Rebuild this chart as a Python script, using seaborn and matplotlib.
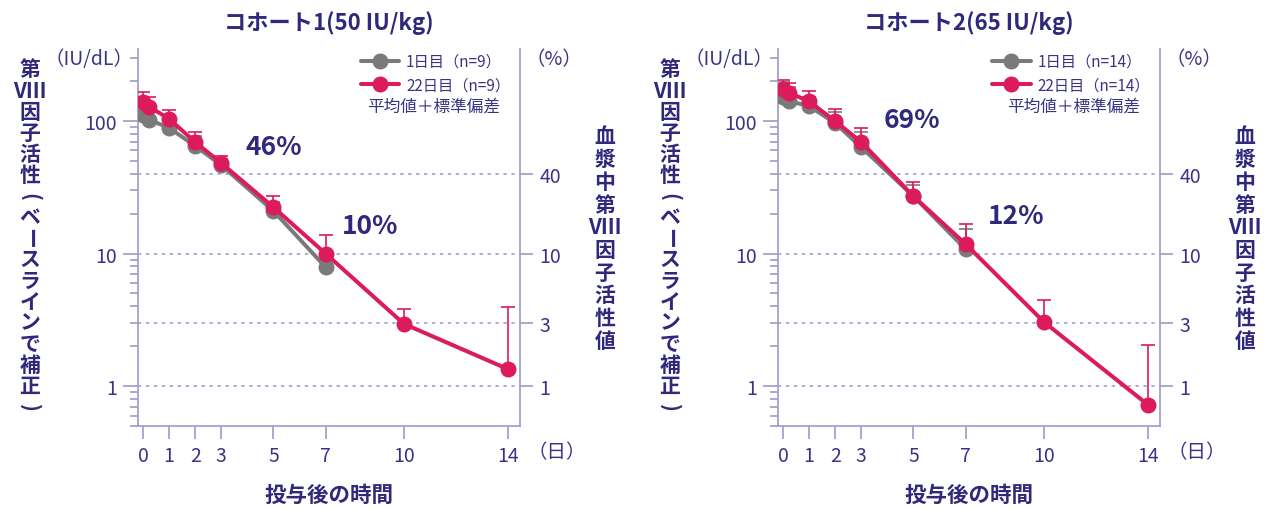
import numpy as np
import pandas as pd
import matplotlib
matplotlib.use("Agg")
import matplotlib.pyplot as plt
from matplotlib.lines import Line2D
from matplotlib.ticker import FixedLocator, NullFormatter, LogLocator, NullLocator
import seaborn as sns

sns.set_theme(style="white")
plt.rcParams["font.family"] = ["Noto Sans CJK JP", "DejaVu Sans"]

# ---- data -------------------------------------------------------------
days_day1 = [0, 0.25, 1, 2, 3, 5, 7]
days_day22 = [0, 0.25, 1, 2, 3, 5, 7, 10, 14]

c1_day1_mean = [112, 102, 89, 65, 46.5, 21, 7.9]
c1_day1_upper = [140, 128, 108, 77, 52, 24.5, 9.0]
c1_day22_mean = [139, 128, 104, 69.5, 48.2, 22.4, 10.0, 2.95, 1.34]
c1_day22_upper = [166, 151, 121, 82.6, 54.5, 27.1, 13.8, 3.8, 3.95]

c2_day1_mean = [152, 141, 130, 96.5, 63.6, 27.1, 10.8]
c2_day1_upper = [196, 180, 152, 118, 82.6, 33.0, 15.3]
c2_day22_mean = [174, 163, 141, 100, 69.5, 27.1, 11.8, 3.05, 0.72]
c2_day22_upper = [204, 195, 168, 123, 88.5, 34.7, 16.7, 4.5, 2.05]

titles = ["コホート1(50 IU/kg)", "コホート2(65 IU/kg)"]
legend_day1 = ["1日目（n=9）", "1日目（n=14）"]
legend_day22 = ["22日目（n=9）", "22日目（n=14）"]
pct_labels = [["46%", "10%"], ["69%", "12%"]]
pct_pos = [[(5.0, 64.7), (8.7, 16.2)], [(4.95, 103), (8.95, 19.3)]]

x_ticks = [0, 1, 2, 3, 5, 7, 10, 14]
left_ticks = [1, 10, 100]
right_ticks = [1, 3, 10, 40]
grid_levels = [1, 3, 10, 40]

cohorts = [
    (c1_day1_mean, c1_day1_upper, c1_day22_mean, c1_day22_upper),
    (c2_day1_mean, c2_day1_upper, c2_day22_mean, c2_day22_upper),
]

# ---- style ------------------------------------------------------------
GREY = "#7a7a7a"
RED = "#db1b5b"
TXT = "#30287a"
TICKTXT = "#3a3486"
AXC = "#a6a0cd"
GRIDC = "#9d97c6"

W, H = 1274, 510
fig = plt.figure(figsize=(W / 100, H / 100), dpi=100)


def fx(x):
    return x / W


def fy(y):
    return 1 - y / H


# vertical captions: (glyph, rotated?) — brackets and the long-vowel bar are
# turned a quarter so they read correctly in a top-to-bottom column
left_label = [("第", False), ("VIII", False), ("因", False), ("子", False),
              ("活", False), ("性", False), ("(", True), ("ベ", False),
              ("ー", True), ("ス", False), ("ラ", False), ("イ", False),
              ("ン", False), ("で", False), ("補", False), ("正", False),
              (")", True)]
right_label = [("血", False), ("漿", False), ("中", False), ("第", False),
               ("VIII", False), ("因", False), ("子", False), ("活", False),
               ("性", False), ("値", False)]


def column_text(items, x, y0, pitch):
    for k, (ch, rot) in enumerate(items):
        fig.text(fx(x), fy(y0 + k * pitch), ch, ha="center", va="center",
                 fontsize=15, fontweight="bold", color=TXT,
                 rotation=-90 if rot else 0, rotation_mode="default")


axes_left_px = [138, 778]
axes_w_px = 382
top_px, bot_px = 50, 427

for i, (d1m, d1u, d22m, d22u) in enumerate(cohorts):
    lx = axes_left_px[i]
    ax = fig.add_axes([fx(lx), fy(bot_px), axes_w_px / W, (bot_px - top_px) / H])
    ax.set_yscale("log")
    ax.set_xlim(-0.19, 14.45)
    ax.set_ylim(0.5, 350)

    # dotted reference lines
    for g in grid_levels:
        ax.axhline(g, color=GRIDC, lw=1.1, ls=(0, (2.2, 3)), zorder=1)

    df1 = pd.DataFrame({"day": days_day1, "value": d1m})
    df22 = pd.DataFrame({"day": days_day22, "value": d22m})

    # day 1 series (grey) with upper SD bars
    ax.errorbar(days_day1, d1m,
                yerr=[np.zeros(len(d1m)), np.array(d1u) - np.array(d1m)],
                fmt="none", ecolor=GREY, elinewidth=1.2, capsize=4.7,
                capthick=1.2, zorder=2)
    sns.lineplot(data=df1, x="day", y="value", ax=ax, color=GREY,
                 marker="o", markersize=11.5, markeredgewidth=0,
                 linewidth=2.9, legend=False, zorder=3, errorbar=None)

    # day 22 series (red) with upper SD bars
    ax.errorbar(days_day22, d22m,
                yerr=[np.zeros(len(d22m)), np.array(d22u) - np.array(d22m)],
                fmt="none", ecolor=RED, elinewidth=1.2, capsize=4.7,
                capthick=1.2, zorder=4)
    sns.lineplot(data=df22, x="day", y="value", ax=ax, color=RED,
                 marker="o", markersize=11.5, markeredgewidth=0,
                 linewidth=2.9, legend=False, zorder=5, errorbar=None)

    ax.set_xlabel("")
    ax.set_ylabel("")

    # spines
    for side in ["left", "right", "bottom"]:
        ax.spines[side].set_visible(True)
        ax.spines[side].set_color(AXC)
        ax.spines[side].set_linewidth(1.3)
    ax.spines["top"].set_visible(False)

    # x ticks
    ax.set_xticks(x_ticks)
    ax.set_xticklabels([str(t) for t in x_ticks])
    ax.tick_params(axis="x", direction="out", length=9, width=1.3,
                   color=AXC, labelcolor=TICKTXT, labelsize=14, pad=5,
                   bottom=True)

    # left log ticks
    ax.yaxis.set_major_locator(FixedLocator(left_ticks))
    ax.set_yticklabels([str(t) for t in left_ticks])
    ax.yaxis.set_minor_locator(LogLocator(base=10, subs=np.arange(2, 10)))
    ax.yaxis.set_minor_formatter(NullFormatter())
    ax.tick_params(axis="y", which="major", direction="out", length=11,
                   width=1.3, color=AXC, labelcolor=TICKTXT, labelsize=14,
                   pad=4, left=True)
    ax.tick_params(axis="y", which="minor", direction="out", length=6,
                   width=1.3, color=AXC, left=True)

    # right percent axis
    axr = ax.twinx()
    axr.set_yscale("log")
    axr.set_ylim(ax.get_ylim())
    axr.yaxis.set_major_locator(FixedLocator(right_ticks))
    axr.yaxis.set_minor_locator(NullLocator())
    axr.set_yticklabels([str(t) for t in right_ticks])
    axr.tick_params(axis="y", which="major", direction="out", length=9,
                    width=1.3, color=AXC, labelcolor=TICKTXT, labelsize=14,
                    pad=5, right=True)
    for side in axr.spines:
        axr.spines[side].set_visible(False)
    axr.grid(False)
    ax.grid(False)

    # percentage annotations
    for lab, (tx, ty) in zip(pct_labels[i], pct_pos[i]):
        ax.text(tx, ty, lab, color=TXT, fontsize=19, fontweight="bold",
                ha="center", va="center", zorder=6)

    # legend
    handles = [
        Line2D([], [], color=GREY, lw=2.9, marker="o", markersize=11.5,
               markeredgewidth=0),
        Line2D([], [], color=RED, lw=2.9, marker="o", markersize=11.5,
               markeredgewidth=0),
    ]
    leg = ax.legend(handles, [legend_day1[i], legend_day22[i]],
                    loc="upper right", bbox_to_anchor=(0.99, 1.006),
                    frameon=False, fontsize=11, handlelength=2.5,
                    handletextpad=0.45, labelspacing=0.45, borderaxespad=0)
    for t in leg.get_texts():
        t.set_color(TICKTXT)
    ax.text(0.948, 0.849, "平均値＋標準偏差", transform=ax.transAxes,
            ha="right", va="center", fontsize=12, color=TICKTXT)

    # titles and axis captions
    cx = lx + axes_w_px / 2
    fig.text(fx(cx), fy(23), titles[i], ha="center", va="center",
             fontsize=16, fontweight="bold", color=TXT)
    fig.text(fx(cx), fy(495), "投与後の時間", ha="center", va="center",
             fontsize=15.5, fontweight="bold", color=TXT)
    fig.text(fx(lx - 49), fy(60), "（IU/dL）", ha="center", va="center",
             fontsize=14, color=TICKTXT)
    fig.text(fx(lx + axes_w_px + 34), fy(60), "（%）", ha="center",
             va="center", fontsize=14, color=TICKTXT)
    fig.text(fx(lx + axes_w_px + 37), fy(453), "（日）", ha="center",
             va="center", fontsize=14, color=TICKTXT)

    column_text(left_label, lx - 108, 70, 21.1)
    column_text(right_label, lx + axes_w_px + 85, 137, 22.7)

fig.savefig("out.png", dpi=100, facecolor="white")
